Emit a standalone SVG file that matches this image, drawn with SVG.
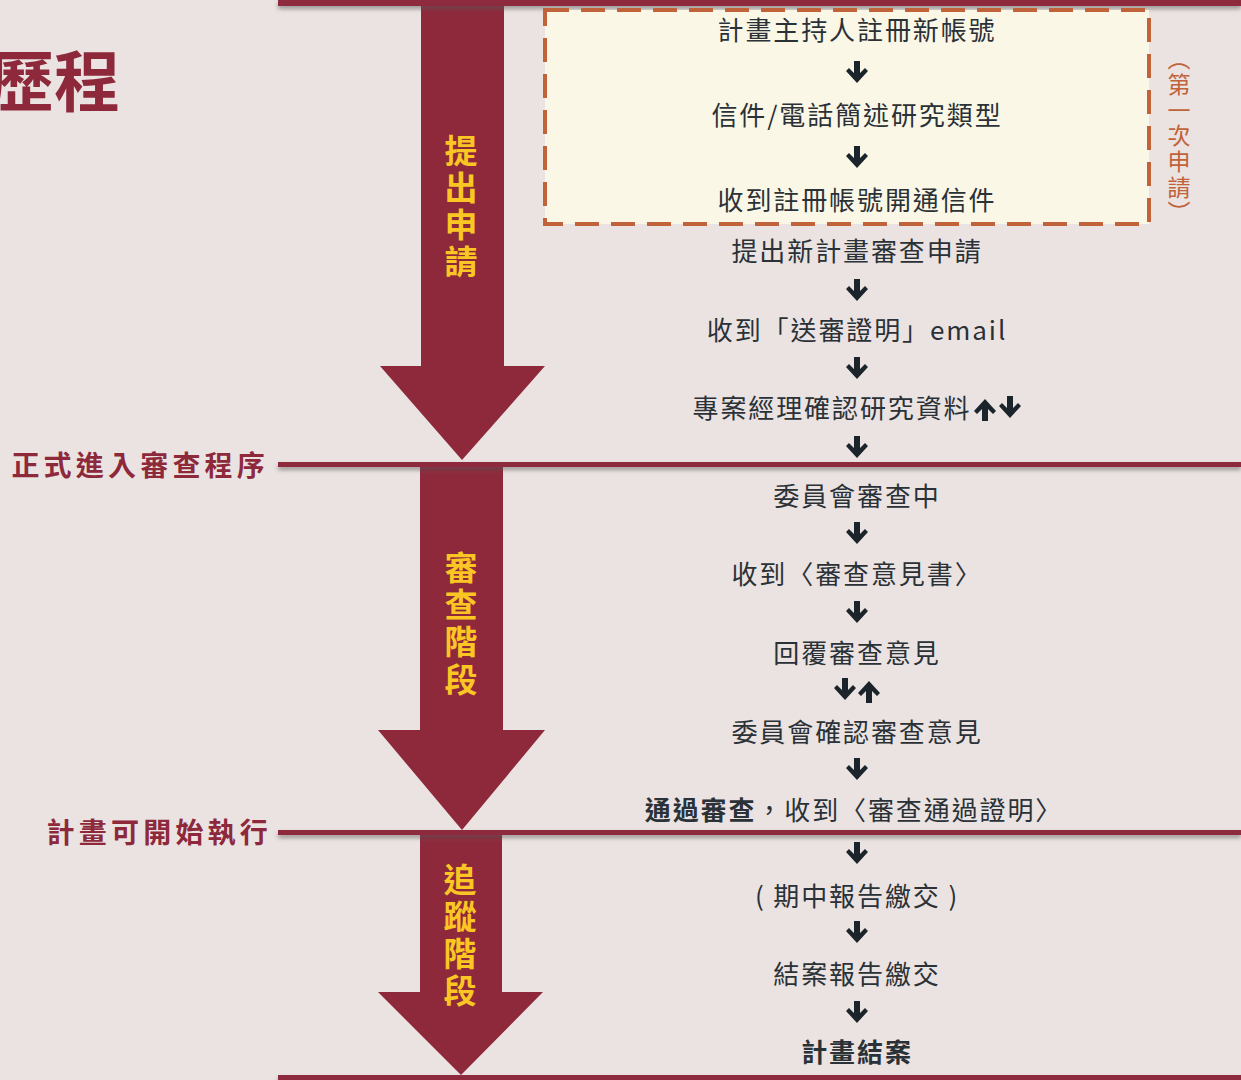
<svg xmlns="http://www.w3.org/2000/svg" width="1241" height="1080" viewBox="0 0 1241 1080" xml:lang="zh-TW" lang="zh-TW">
<defs>
<style>
.bg{fill:#ebe3e1}
.mar{fill:#8e293c}
.t{font-family:"Noto Sans CJK TC","Noto Sans CJK SC",sans-serif;font-size:26px;fill:#2a3137;letter-spacing:1.9px;text-anchor:middle;dominant-baseline:central}
.b{font-weight:bold}
.lbl{font-family:"Noto Sans CJK TC","Noto Sans CJK SC",sans-serif;font-size:28px;font-weight:bold;fill:#8e293c;letter-spacing:4.2px;text-anchor:end;dominant-baseline:central}
.y{font-family:"Noto Sans CJK TC","Noto Sans CJK SC",sans-serif;font-size:33px;font-weight:bold;fill:#f9c623;text-anchor:middle;dominant-baseline:central}
.o{font-family:"Noto Sans CJK TC","Noto Sans CJK SC",sans-serif;font-size:23px;fill:#c0623a;writing-mode:vertical-rl;letter-spacing:2.7px}
.ic{fill:#1b232b}
</style>
<filter id="sh" x="-5%" y="-100%" width="110%" height="400%">
<feDropShadow dx="0" dy="3" stdDeviation="2" flood-color="#555" flood-opacity="0.55"/>
</filter>
<path id="dn" d="M-3,-11 H3 V1 L8,-4 L11,-1 L0,11 L-11,-1 L-8,-4 L-3,1 Z"/>
<path id="up" d="M-3,11 H3 V-1 L8,4 L11,1 L0,-11 L-11,1 L-8,4 L-3,-1 Z"/>
</defs>
<rect class="bg" x="0" y="0" width="1241" height="1080"/>

<g id="title">
<text x="120" y="77" class="lbl" style="font-size:66px;letter-spacing:0">歷程</text>
</g>

<g id="bigarrows">
<path class="mar" d="M421,0 H504 V366 H545 L462,460 L380,366 H421 Z"/>
<path class="mar" d="M420,467 H503 V730 H545 L462,830 L378,730 H420 Z"/>
<path class="mar" d="M420,835 H502 V992 H543 L461,1075 L378,992 H420 Z"/>
</g>

<g id="lines" filter="url(#sh)">
<rect class="mar" x="278" y="0" width="963" height="6"/>
<rect class="mar" x="278" y="462" width="963" height="5"/>
<rect class="mar" x="278" y="830" width="963" height="5"/>
<rect class="mar" x="278" y="1075" width="963" height="5"/>
</g>

<g id="phase-labels">
<text class="lbl" x="269" y="464">正式進入審查程序</text>
<text class="lbl" x="272" y="831">計畫可開始執行</text>
</g>

<g id="stage1">
<text class="y" x="461" y="149">提</text>
<text class="y" x="461" y="186">出</text>
<text class="y" x="461" y="223">申</text>
<text class="y" x="461" y="260">請</text>
</g>
<g id="stage2">
<text class="y" x="461" y="566">審</text>
<text class="y" x="461" y="603">查</text>
<text class="y" x="461" y="640">階</text>
<text class="y" x="461" y="678">段</text>
</g>
<g id="stage3">
<text class="y" x="460" y="878">追</text>
<text class="y" x="460" y="915">蹤</text>
<text class="y" x="460" y="952">階</text>
<text class="y" x="460" y="989">段</text>
</g>

<g id="first-apply">
<rect x="545" y="10" width="604" height="214" fill="#fbf7e6" stroke="#c0623a" stroke-width="4" stroke-dasharray="24 12"/>
<text class="o" x="1179" y="47">（第一次申請）</text>
</g>

<g id="n1"><text class="t" x="857" y="28">計畫主持人註冊新帳號</text></g>
<g id="n2"><text class="t" x="857" y="113">信件/電話簡述研究類型</text></g>
<g id="n3"><text class="t" x="857" y="198">收到註冊帳號開通信件</text></g>
<g id="n4"><text class="t" x="857" y="249">提出新計畫審查申請</text></g>
<g id="n5"><text class="t" x="857" y="328">收到「送審證明」email</text></g>
<g id="n6"><text class="t" x="832" y="406">專案經理確認研究資料</text></g>
<g id="n7"><text class="t" x="857" y="494">委員會審查中</text></g>
<g id="n8"><text class="t" x="857" y="572">收到〈審查意見書〉</text></g>
<g id="n9"><text class="t" x="857" y="651">回覆審查意見</text></g>
<g id="n10"><text class="t" x="857" y="730">委員會確認審查意見</text></g>
<g id="n11"><text class="t" x="854" y="808"><tspan class="b">通過審查</tspan>，收到〈審查通過證明〉</text></g>
<g id="n12"><text class="t" x="857" y="894">( 期中報告繳交 )</text></g>
<g id="n13"><text class="t" x="857" y="972">結案報告繳交</text></g>
<g id="n14"><text class="t b" x="857" y="1050">計畫結案</text></g>

<g id="connectors" class="ic">
<use href="#dn" x="857" y="72"/>
<use href="#dn" x="857" y="157"/>
<use href="#dn" x="857" y="290"/>
<use href="#dn" x="857" y="368"/>
<use href="#up" x="985" y="410"/>
<use href="#dn" x="1010" y="407"/>
<use href="#dn" x="857" y="447"/>
<use href="#dn" x="857" y="533"/>
<use href="#dn" x="857" y="612"/>
<use href="#dn" x="845" y="689"/>
<use href="#up" x="869" y="692"/>
<use href="#dn" x="857" y="769"/>
<use href="#dn" x="857" y="853"/>
<use href="#dn" x="857" y="932"/>
<use href="#dn" x="857" y="1012"/>
</g>
</svg>
